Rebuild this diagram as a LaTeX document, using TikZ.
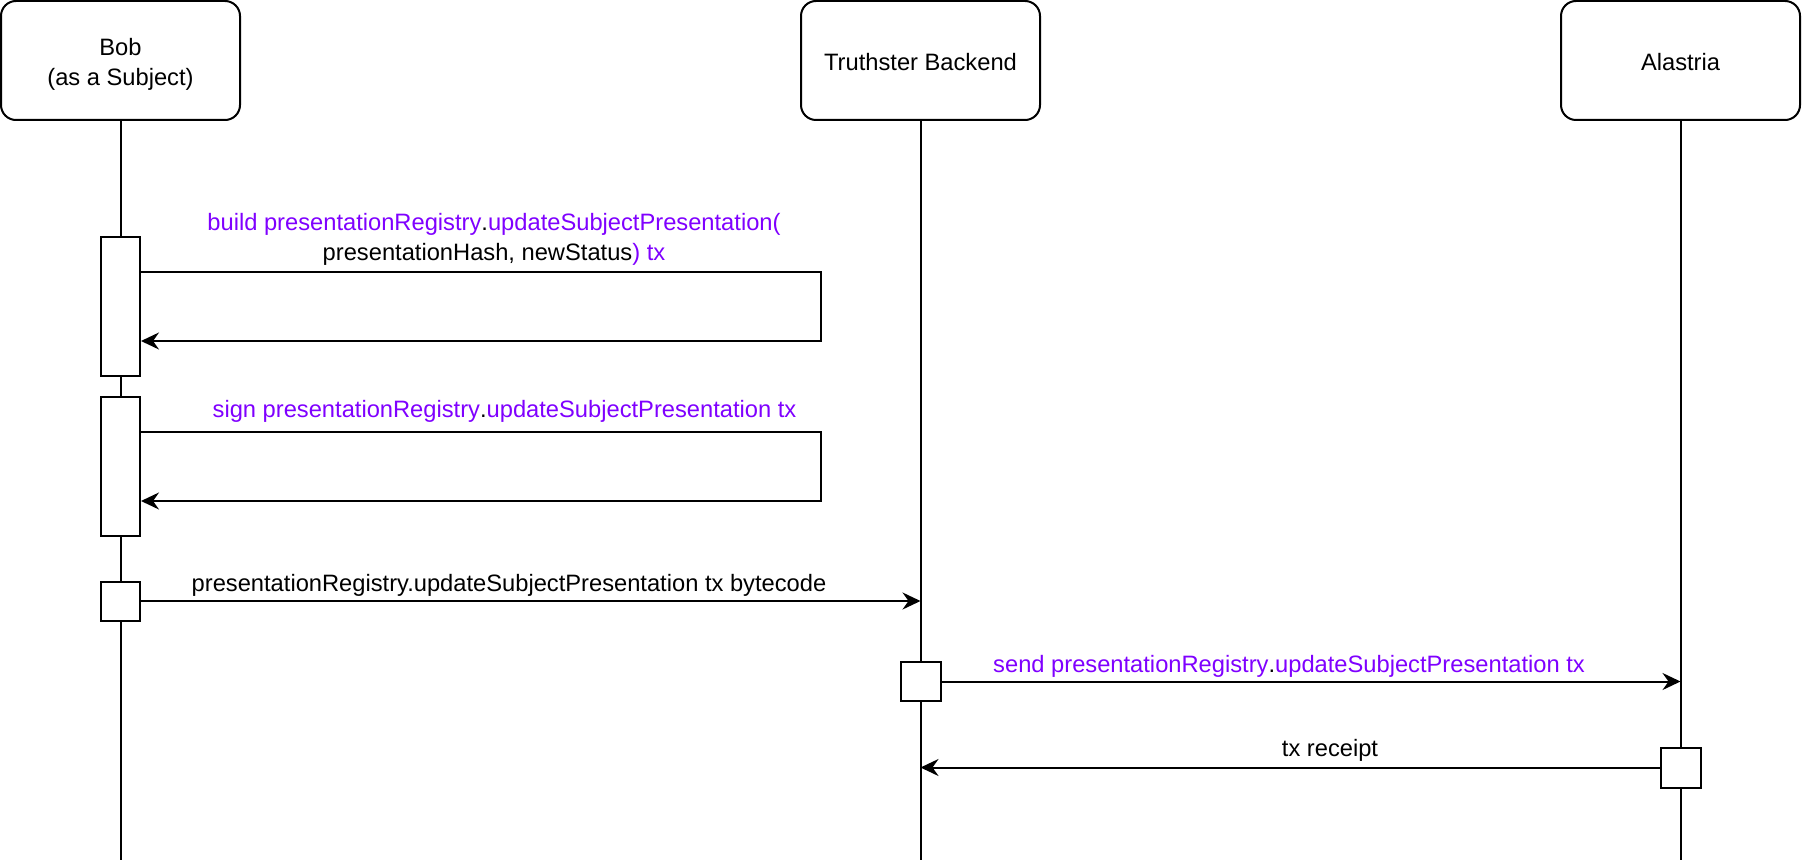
\documentclass[tikz,border=0pt]{standalone}
\usepackage{fontspec}
\setmainfont{Liberation Sans}
\usetikzlibrary{arrows.meta,calc}
\definecolor{pv}{HTML}{7F00FF}
\begin{document}
\begin{tikzpicture}[x=0.5pt,y=-0.5pt,
  every node/.style={font=\fontsize{11.85pt}{15pt}\selectfont},
  actor/.style={draw,line width=1pt,rounded corners=7.5pt,fill=white,minimum width=119.5pt,minimum height=59.5pt,align=center,inner sep=0pt},
  actbox/.style={draw,line width=1pt,fill=white,minimum width=19.5pt,inner sep=0pt},
  life/.style={line width=1pt},
  msg/.style={line width=1pt,-{Stealth[length=9pt,width=8.5pt,inset=3pt]}},
  lbl/.style={align=center,inner sep=0pt}
]
\useasboundingbox (0,0) rectangle (1802,866);
% actors
\node[actor] (bob) at (120.5,60.5) {};
\node[lbl] (bobtxt) at (120.5,64) {Bob\\(as a Subject)};
\node[actor] (truth) at (920.5,60.5) {};
\node[lbl] (truthtxt) at (920.5,62) {Truthster Backend};
\node[actor] (alas) at (1680.5,60.5) {};
\node[lbl] (alastxt) at (1680.5,62) {Alastria};
\coordinate (bobEnd) at (120.5,860);
\coordinate (truthEnd) at (920.5,860);
\coordinate (alasEnd) at (1680.5,860);
\draw[life] (bob.south) -- (bobEnd);
\draw[life] (truth.south) -- (truthEnd);
\draw[life] (alas.south) -- (alasEnd);
% activation boxes
\node[actbox,minimum height=69.5pt] (act1) at (120.5,306.5) {};
\node[actbox,minimum height=69.5pt] (act2) at (120.5,466) {};
\node[actbox,minimum height=19.5pt] (act3) at (120.5,601) {};
\node[actbox,minimum width=20pt,minimum height=19.5pt] (act4) at (921,681.5) {};
\node[actbox,minimum width=20pt,minimum height=20pt] (act5) at (1681,767.5) {};
% self messages
\coordinate (t1a) at (820.5,272);
\coordinate (t1b) at (820.5,341);
\draw[msg] (act1.east |- t1a) -- (t1a) -- (t1b) -- (act1.east |- t1b);
\coordinate (t2a) at (820.5,432);
\coordinate (t2b) at (820.5,501);
\draw[msg] (act2.east |- t2a) -- (t2a) -- (t2b) -- (act2.east |- t2b);
% messages
\draw[msg] (act3.east) -- (act3.east -| truthEnd);
\draw[msg] (act4.east) -- (act4.east -| alasEnd);
\draw[msg] (act5.west |- 0,767.5) -- (act5.west -| truthEnd);
% labels
\node[lbl] (l1) at (494,239.5) {\textcolor{pv}{build presentationRegistry}.\textcolor{pv}{updateSubjectPresentation(}\\presentationHash, newStatus\textcolor{pv}{) tx}};
\node[lbl] (l2) at (504.5,411) {\textcolor{pv}{sign presentationRegistry}.\textcolor{pv}{updateSubjectPresentation tx}};
\node[lbl] (l3) at (509,585) {presentationRegistry.updateSubjectPresentation tx bytecode};
\node[lbl] (l4) at (1289,666) {\textcolor{pv}{send presentationRegistry}.\textcolor{pv}{updateSubjectPresentation tx}};
\node[lbl] (l5) at (1330,750) {tx receipt};
\end{tikzpicture}
\end{document}
